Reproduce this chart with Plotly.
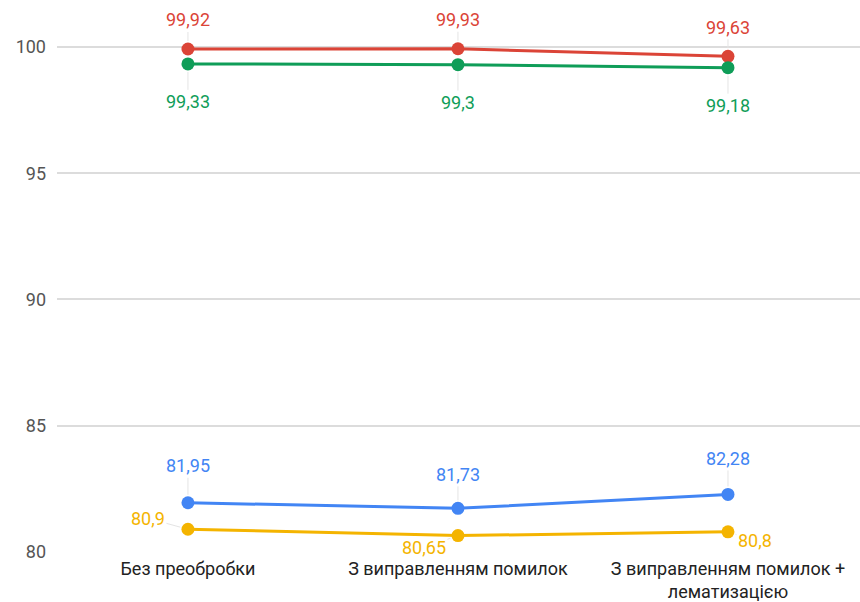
import plotly.graph_objects as go

categories = ["Без преобробки", "З виправленням помилок", "З виправленням помилок +<br>лематизацією"]
red_vals = [99.92, 99.93, 99.63]
green_vals = [99.33, 99.3, 99.18]
blue_vals = [81.95, 81.73, 82.28]
yellow_vals = [80.9, 80.65, 80.8]
y_ticks = [80, 85, 90, 95, 100]

series = [
    ("red", red_vals, "#db4437", [(0, -29), (0, -29), (0, -29)]),
    ("green", green_vals, "#0f9d58", [(0, 38), (0, 38), (0, 38)]),
    ("blue", blue_vals, "#4285f4", [(0, -37), (0, -34), (0, -36)]),
    ("yellow", yellow_vals, "#f4b400", [(-40, -11), (-34, 12), (27, 9)]),
]

fig = go.Figure()
annotations = []
for name, vals, color, offs in series:
    fig.add_trace(go.Scatter(
        x=categories, y=vals, mode="lines+markers", name=name,
        line=dict(color=color, width=3),
        marker=dict(color=color, size=13),
        showlegend=False,
    ))
    for c, v, (ax, ay) in zip(categories, vals, offs):
        annotations.append(dict(
            x=c, y=v, xref="x", yref="y",
            text=("%g" % v).replace(".", ","),
            showarrow=True, arrowhead=0, arrowwidth=1, arrowcolor="#e4e4e4",
            ax=ax, ay=ay, standoff=8,
            font=dict(family="Roboto", size=18, color=color),
        ))

fig.update_layout(
    width=860, height=602,
    margin=dict(l=57, r=0, t=0, b=50),
    paper_bgcolor="white", plot_bgcolor="white",
    font=dict(family="Roboto", size=18, color="#444444"),
    annotations=annotations,
    xaxis=dict(
        type="category", range=[-0.485, 2.489],
        showgrid=False, zeroline=False, showline=False,
        tickfont=dict(family="Roboto", size=18, color="#222222"),
        ticks="", ticklabelstandoff=4, automargin=False,
    ),
    yaxis=dict(
        range=[80, 101.86], tickvals=y_ticks,
        showgrid=True, gridcolor="#dcdcdc", gridwidth=1.5,
        zeroline=False, showline=False,
        tickfont=dict(family="Roboto", size=18, color="#555555"),
        ticklabelstandoff=10, automargin=False,
    ),
)

fig.write_html("out.html")
